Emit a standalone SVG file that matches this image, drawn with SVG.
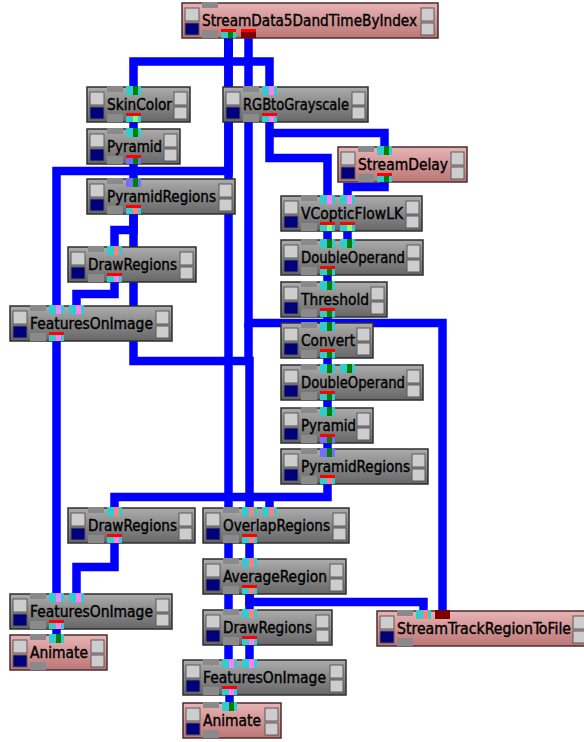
<svg xmlns="http://www.w3.org/2000/svg" width="584" height="742" viewBox="0 0 584 742">
<defs>
<linearGradient id="gg" x1="0" y1="0" x2="0" y2="1"><stop offset="0" stop-color="#acacac"/><stop offset="1" stop-color="#666666"/></linearGradient>
<linearGradient id="pg" x1="0" y1="0" x2="0" y2="1"><stop offset="0" stop-color="#e8b4b4"/><stop offset="1" stop-color="#bc7676"/></linearGradient>
</defs>
<style>
.bg{fill:url(#gg);stroke:#2e2e2e;stroke-width:1.5}
.bp{fill:url(#pg);stroke:#4a2c2c;stroke-width:1.5}
.tab{fill:#8a8a8a}
.bl{fill:#cdcdcd;stroke:#5a5a5a;stroke-width:1}
.bd{fill:#00007a;stroke:#5a5a5a;stroke-width:1}
.t{font-family:"DejaVu Sans Condensed","DejaVu Sans",sans-serif;font-size:16px;fill:#000;stroke:#000;stroke-width:0.4}
.w{fill:none;stroke:#0000ff;stroke-width:8.5;stroke-linejoin:miter}
.pc{fill:#33cccc}.plb{fill:#7070ff}.pr{fill:#ff0000}.pdr{fill:#800000}
.sg{fill:#008000}.slg{fill:#80ff80}.spk{fill:#ff80ff}.ssa{fill:#ff8080}
</style>
<rect width="584" height="742" fill="#ffffff"/>
<g id="connectors">
<path class="w" d="M228.5 36 V61.5 H133.5 V87"/>
<path class="w" d="M228.5 61.5 H269.5 V87"/>
<path class="w" d="M228.5 36 V171 H56.5 V306"/>
<path class="w" d="M228.5 36 V660"/>
<path class="w" d="M248.5 36 V323 H442.5 V611"/>
<path class="w" d="M133.5 121 V129"/>
<path class="w" d="M133.5 163 V179"/>
<path class="w" d="M133.5 213 V230 H114.5 V247"/>
<path class="w" d="M133.5 213 V361 H249.5 V508"/>
<path class="w" d="M248.5 323 V361"/>
<path class="w" d="M114.5 281 V294 H76.5 V306"/>
<path class="w" d="M56.5 340 V594"/>
<path class="w" d="M269.5 121 V158 H327.5 V196"/>
<path class="w" d="M269.5 133 H384.5 V147"/>
<path class="w" d="M384.5 181 V187 H347.5 V196"/>
<path class="w" d="M327.5 230 V240"/>
<path class="w" d="M347.5 230 V240"/>
<path class="w" d="M327.5 274 V282"/>
<path class="w" d="M327.5 316 V323"/>
<path class="w" d="M327.5 357 V365"/>
<path class="w" d="M327.5 399 V408"/>
<path class="w" d="M327.5 442 V449"/>
<path class="w" d="M327.5 483 V497 H114.5 V508"/>
<path class="w" d="M269.5 497 V508"/>
<path class="w" d="M114.5 542 V567 H76.5 V594"/>
<path class="w" d="M56.5 628 V635"/>
<path class="w" d="M249.5 542 V559"/>
<path class="w" d="M249.5 593 V610"/>
<path class="w" d="M249.5 593 V602 H423.5 V611"/>
<path class="w" d="M249.5 644 V660"/>
<path class="w" d="M229.5 694 V703"/>
</g>

<g id="sd" transform="translate(182,3)">
<rect class="bp" width="256" height="35"/>
<rect class="tab" x="20" y="-1" width="16" height="6"/><rect class="tab" x="20" y="27" width="16" height="8"/>
<rect class="bl" x="3" y="5" width="14" height="13"/><rect class="bd" x="3" y="20" width="14" height="12"/>
<rect class="bl" x="239" y="5" width="13" height="13"/><rect class="bl" x="239" y="20" width="13" height="12"/>
<text class="t" x="20" y="23" textLength="215" lengthAdjust="spacingAndGlyphs">StreamData5DandTimeByIndex</text>
<rect class="pr" x="39" y="26" width="15" height="3"/><rect class="pc" x="39" y="29" width="15" height="6"/><rect class="sg" x="46" y="29" width="5" height="6"/>
<rect class="pr" x="59" y="26" width="15" height="3"/><rect class="pdr" x="59" y="29" width="15" height="6"/>
</g>

<g id="skin" transform="translate(87,87)">
<rect class="bg" width="103" height="35"/>
<rect class="tab" x="20" y="-1" width="16" height="6"/><rect class="tab" x="20" y="27" width="16" height="8"/>
<rect class="bl" x="3" y="5" width="14" height="13"/><rect class="bd" x="3" y="20" width="14" height="12"/>
<rect class="bl" x="87" y="5" width="13" height="13"/><rect class="bl" x="87" y="20" width="13" height="12"/>
<text class="t" x="20" y="23" textLength="65" lengthAdjust="spacingAndGlyphs">SkinColor</text>
<rect class="pc" x="39" y="-1" width="15" height="9"/><rect class="sg" x="46" y="-1" width="5" height="9"/>
<rect class="pr" x="39" y="26" width="15" height="3"/><rect class="pc" x="39" y="29" width="15" height="6"/><rect class="slg" x="46" y="29" width="5" height="6"/>
</g>

<g id="rgb" transform="translate(223,87)">
<rect class="bg" width="145" height="35"/>
<rect class="tab" x="20" y="-1" width="16" height="6"/><rect class="tab" x="20" y="27" width="16" height="8"/>
<rect class="bl" x="3" y="5" width="14" height="13"/><rect class="bd" x="3" y="20" width="14" height="12"/>
<rect class="bl" x="129" y="5" width="13" height="13"/><rect class="bl" x="129" y="20" width="13" height="12"/>
<text class="t" x="20" y="23" textLength="106" lengthAdjust="spacingAndGlyphs">RGBtoGrayscale</text>
<rect class="pc" x="39" y="-1" width="15" height="9"/><rect class="spk" x="46" y="-1" width="5" height="9"/>
<rect class="pr" x="39" y="26" width="15" height="3"/><rect class="pc" x="39" y="29" width="15" height="6"/><rect class="spk" x="46" y="29" width="5" height="6"/>
</g>

<g id="pyrL" transform="translate(87,129)">
<rect class="bg" width="93" height="35"/>
<rect class="tab" x="20" y="-1" width="16" height="6"/><rect class="tab" x="20" y="27" width="16" height="8"/>
<rect class="bl" x="3" y="5" width="14" height="13"/><rect class="bd" x="3" y="20" width="14" height="12"/>
<rect class="bl" x="77" y="5" width="13" height="13"/><rect class="bl" x="77" y="20" width="13" height="12"/>
<text class="t" x="20" y="23" textLength="55" lengthAdjust="spacingAndGlyphs">Pyramid</text>
<rect class="pc" x="39" y="-1" width="15" height="9"/><rect class="sg" x="46" y="-1" width="5" height="9"/>
<rect class="pr" x="39" y="26" width="15" height="3"/><rect class="plb" x="39" y="29" width="15" height="6"/><rect class="sg" x="46" y="29" width="5" height="6"/>
</g>

<g id="prL" transform="translate(87,179)">
<rect class="bg" width="148" height="35"/>
<rect class="tab" x="20" y="-1" width="16" height="6"/><rect class="tab" x="20" y="27" width="16" height="8"/>
<rect class="bl" x="3" y="5" width="14" height="13"/><rect class="bd" x="3" y="20" width="14" height="12"/>
<rect class="bl" x="132" y="5" width="13" height="13"/><rect class="bl" x="132" y="20" width="13" height="12"/>
<text class="t" x="20" y="23" textLength="109" lengthAdjust="spacingAndGlyphs">PyramidRegions</text>
<rect class="plb" x="39" y="-1" width="15" height="9"/><rect class="sg" x="46" y="-1" width="5" height="9"/>
<rect class="pr" x="39" y="26" width="15" height="3"/><rect class="pc" x="39" y="29" width="15" height="6"/><rect class="ssa" x="46" y="29" width="5" height="6"/>
</g>

<g id="drU" transform="translate(68,247)">
<rect class="bg" width="128" height="35"/>
<rect class="tab" x="20" y="-1" width="16" height="6"/><rect class="tab" x="20" y="27" width="16" height="8"/>
<rect class="bl" x="3" y="5" width="14" height="13"/><rect class="bd" x="3" y="20" width="14" height="12"/>
<rect class="bl" x="112" y="5" width="13" height="13"/><rect class="bl" x="112" y="20" width="13" height="12"/>
<text class="t" x="20" y="23" textLength="89" lengthAdjust="spacingAndGlyphs">DrawRegions</text>
<rect class="pc" x="39" y="-1" width="15" height="9"/><rect class="ssa" x="46" y="-1" width="5" height="9"/>
<rect class="pr" x="39" y="26" width="15" height="3"/><rect class="pc" x="39" y="29" width="15" height="6"/><rect class="spk" x="46" y="29" width="5" height="6"/>
</g>

<g id="foU" transform="translate(10,306)">
<rect class="bg" width="162" height="35"/>
<rect class="tab" x="20" y="-1" width="16" height="6"/><rect class="tab" x="20" y="27" width="16" height="8"/>
<rect class="bl" x="3" y="5" width="14" height="13"/><rect class="bd" x="3" y="20" width="14" height="12"/>
<rect class="bl" x="146" y="5" width="13" height="13"/><rect class="bl" x="146" y="20" width="13" height="12"/>
<text class="t" x="20" y="23" textLength="123" lengthAdjust="spacingAndGlyphs">FeaturesOnImage</text>
<rect class="pc" x="39" y="-1" width="15" height="9"/><rect class="spk" x="46" y="-1" width="5" height="9"/>
<rect class="pc" x="59" y="-1" width="15" height="9"/><rect class="spk" x="66" y="-1" width="5" height="9"/>
<rect class="pr" x="39" y="26" width="15" height="3"/><rect class="pc" x="39" y="29" width="15" height="6"/><rect class="spk" x="46" y="29" width="5" height="6"/>
</g>

<g id="sdel" transform="translate(338,147)">
<rect class="bp" width="129" height="35"/>
<rect class="tab" x="20" y="-1" width="16" height="6"/><rect class="tab" x="20" y="27" width="16" height="8"/>
<rect class="bl" x="3" y="5" width="14" height="13"/><rect class="bd" x="3" y="20" width="14" height="12"/>
<rect class="bl" x="113" y="5" width="13" height="13"/><rect class="bl" x="113" y="20" width="13" height="12"/>
<text class="t" x="20" y="23" textLength="90" lengthAdjust="spacingAndGlyphs">StreamDelay</text>
<rect class="pc" x="39" y="-1" width="15" height="9"/><rect class="sg" x="46" y="-1" width="5" height="9"/>
<rect class="pr" x="39" y="26" width="15" height="3"/><rect class="pc" x="39" y="29" width="15" height="6"/><rect class="sg" x="46" y="29" width="5" height="6"/>
</g>

<g id="vc" transform="translate(281,196)">
<rect class="bg" width="141" height="35"/>
<rect class="tab" x="20" y="-1" width="16" height="6"/><rect class="tab" x="20" y="27" width="16" height="8"/>
<rect class="bl" x="3" y="5" width="14" height="13"/><rect class="bd" x="3" y="20" width="14" height="12"/>
<rect class="bl" x="125" y="5" width="13" height="13"/><rect class="bl" x="125" y="20" width="13" height="12"/>
<text class="t" x="20" y="23" textLength="102" lengthAdjust="spacingAndGlyphs">VCopticFlowLK</text>
<rect class="pc" x="39" y="-1" width="15" height="9"/><rect class="spk" x="46" y="-1" width="5" height="9"/>
<rect class="pc" x="59" y="-1" width="15" height="9"/><rect class="spk" x="66" y="-1" width="5" height="9"/>
<rect class="pr" x="39" y="26" width="15" height="3"/><rect class="pc" x="39" y="29" width="15" height="6"/><rect class="slg" x="46" y="29" width="5" height="6"/>
<rect class="pr" x="59" y="26" width="15" height="3"/><rect class="pc" x="59" y="29" width="15" height="6"/><rect class="slg" x="66" y="29" width="5" height="6"/>
</g>

<g id="do1" transform="translate(281,240)">
<rect class="bg" width="142" height="35"/>
<rect class="tab" x="20" y="-1" width="16" height="6"/><rect class="tab" x="20" y="27" width="16" height="8"/>
<rect class="bl" x="3" y="5" width="14" height="13"/><rect class="bd" x="3" y="20" width="14" height="12"/>
<rect class="bl" x="126" y="5" width="13" height="13"/><rect class="bl" x="126" y="20" width="13" height="12"/>
<text class="t" x="20" y="23" textLength="104" lengthAdjust="spacingAndGlyphs">DoubleOperand</text>
<rect class="pc" x="39" y="-1" width="15" height="9"/><rect class="sg" x="46" y="-1" width="5" height="9"/>
<rect class="pc" x="59" y="-1" width="15" height="9"/><rect class="sg" x="66" y="-1" width="5" height="9"/>
<rect class="pr" x="39" y="26" width="15" height="3"/><rect class="pc" x="39" y="29" width="15" height="6"/><rect class="sg" x="46" y="29" width="5" height="6"/>
</g>

<g id="th" transform="translate(281,282)">
<rect class="bg" width="106" height="35"/>
<rect class="tab" x="20" y="-1" width="16" height="6"/><rect class="tab" x="20" y="27" width="16" height="8"/>
<rect class="bl" x="3" y="5" width="14" height="13"/><rect class="bd" x="3" y="20" width="14" height="12"/>
<rect class="bl" x="90" y="5" width="13" height="13"/><rect class="bl" x="90" y="20" width="13" height="12"/>
<text class="t" x="20" y="23" textLength="68" lengthAdjust="spacingAndGlyphs">Threshold</text>
<rect class="pc" x="39" y="-1" width="15" height="9"/><rect class="sg" x="46" y="-1" width="5" height="9"/>
<rect class="pr" x="39" y="26" width="15" height="3"/><rect class="pc" x="39" y="29" width="15" height="6"/><rect class="sg" x="46" y="29" width="5" height="6"/>
</g>

<g id="cv" transform="translate(281,323)">
<rect class="bg" width="92" height="35"/>
<rect class="tab" x="20" y="-1" width="16" height="6"/><rect class="tab" x="20" y="27" width="16" height="8"/>
<rect class="bl" x="3" y="5" width="14" height="13"/><rect class="bd" x="3" y="20" width="14" height="12"/>
<rect class="bl" x="76" y="5" width="13" height="13"/><rect class="bl" x="76" y="20" width="13" height="12"/>
<text class="t" x="20" y="23" textLength="54" lengthAdjust="spacingAndGlyphs">Convert</text>
<rect class="pc" x="39" y="-1" width="15" height="9"/><rect class="sg" x="46" y="-1" width="5" height="9"/>
<rect class="pr" x="39" y="26" width="15" height="3"/><rect class="pc" x="39" y="29" width="15" height="6"/><rect class="sg" x="46" y="29" width="5" height="6"/>
</g>

<g id="do2" transform="translate(281,365)">
<rect class="bg" width="142" height="35"/>
<rect class="tab" x="20" y="-1" width="16" height="6"/><rect class="tab" x="20" y="27" width="16" height="8"/>
<rect class="bl" x="3" y="5" width="14" height="13"/><rect class="bd" x="3" y="20" width="14" height="12"/>
<rect class="bl" x="126" y="5" width="13" height="13"/><rect class="bl" x="126" y="20" width="13" height="12"/>
<text class="t" x="20" y="23" textLength="104" lengthAdjust="spacingAndGlyphs">DoubleOperand</text>
<rect class="pc" x="39" y="-1" width="15" height="9"/><rect class="sg" x="46" y="-1" width="5" height="9"/>
<rect class="pc" x="59" y="-1" width="15" height="9"/><rect class="sg" x="66" y="-1" width="5" height="9"/>
<rect class="pr" x="39" y="26" width="15" height="3"/><rect class="pc" x="39" y="29" width="15" height="6"/><rect class="sg" x="46" y="29" width="5" height="6"/>
</g>

<g id="pyrR" transform="translate(281,408)">
<rect class="bg" width="92" height="35"/>
<rect class="tab" x="20" y="-1" width="16" height="6"/><rect class="tab" x="20" y="27" width="16" height="8"/>
<rect class="bl" x="3" y="5" width="14" height="13"/><rect class="bd" x="3" y="20" width="14" height="12"/>
<rect class="bl" x="76" y="5" width="13" height="13"/><rect class="bl" x="76" y="20" width="13" height="12"/>
<text class="t" x="20" y="23" textLength="55" lengthAdjust="spacingAndGlyphs">Pyramid</text>
<rect class="pc" x="39" y="-1" width="15" height="9"/><rect class="sg" x="46" y="-1" width="5" height="9"/>
<rect class="pr" x="39" y="26" width="15" height="3"/><rect class="plb" x="39" y="29" width="15" height="6"/><rect class="sg" x="46" y="29" width="5" height="6"/>
</g>

<g id="prR" transform="translate(281,449)">
<rect class="bg" width="147" height="35"/>
<rect class="tab" x="20" y="-1" width="16" height="6"/><rect class="tab" x="20" y="27" width="16" height="8"/>
<rect class="bl" x="3" y="5" width="14" height="13"/><rect class="bd" x="3" y="20" width="14" height="12"/>
<rect class="bl" x="131" y="5" width="13" height="13"/><rect class="bl" x="131" y="20" width="13" height="12"/>
<text class="t" x="20" y="23" textLength="109" lengthAdjust="spacingAndGlyphs">PyramidRegions</text>
<rect class="plb" x="39" y="-1" width="15" height="9"/><rect class="sg" x="46" y="-1" width="5" height="9"/>
<rect class="pr" x="39" y="26" width="15" height="3"/><rect class="pc" x="39" y="29" width="15" height="6"/><rect class="ssa" x="46" y="29" width="5" height="6"/>
</g>

<g id="drL" transform="translate(68,508)">
<rect class="bg" width="127" height="35"/>
<rect class="tab" x="20" y="-1" width="16" height="6"/><rect class="tab" x="20" y="27" width="16" height="8"/>
<rect class="bl" x="3" y="5" width="14" height="13"/><rect class="bd" x="3" y="20" width="14" height="12"/>
<rect class="bl" x="111" y="5" width="13" height="13"/><rect class="bl" x="111" y="20" width="13" height="12"/>
<text class="t" x="20" y="23" textLength="89" lengthAdjust="spacingAndGlyphs">DrawRegions</text>
<rect class="pc" x="39" y="-1" width="15" height="9"/><rect class="ssa" x="46" y="-1" width="5" height="9"/>
<rect class="pr" x="39" y="26" width="15" height="3"/><rect class="pc" x="39" y="29" width="15" height="6"/><rect class="spk" x="46" y="29" width="5" height="6"/>
</g>

<g id="foL" transform="translate(10,594)">
<rect class="bg" width="162" height="35"/>
<rect class="tab" x="20" y="-1" width="16" height="6"/><rect class="tab" x="20" y="27" width="16" height="8"/>
<rect class="bl" x="3" y="5" width="14" height="13"/><rect class="bd" x="3" y="20" width="14" height="12"/>
<rect class="bl" x="146" y="5" width="13" height="13"/><rect class="bl" x="146" y="20" width="13" height="12"/>
<text class="t" x="20" y="23" textLength="123" lengthAdjust="spacingAndGlyphs">FeaturesOnImage</text>
<rect class="pc" x="39" y="-1" width="15" height="9"/><rect class="spk" x="46" y="-1" width="5" height="9"/>
<rect class="pc" x="59" y="-1" width="15" height="9"/><rect class="spk" x="66" y="-1" width="5" height="9"/>
<rect class="pr" x="39" y="26" width="15" height="3"/><rect class="pc" x="39" y="29" width="15" height="6"/><rect class="spk" x="46" y="29" width="5" height="6"/>
</g>

<g id="anL" transform="translate(10,635)">
<rect class="bp" width="97" height="35"/>
<rect class="tab" x="20" y="-1" width="16" height="6"/><rect class="tab" x="20" y="27" width="16" height="8"/>
<rect class="bl" x="3" y="5" width="14" height="13"/><rect class="bd" x="3" y="20" width="14" height="12"/>
<rect class="bl" x="81" y="5" width="13" height="13"/><rect class="bl" x="81" y="20" width="13" height="12"/>
<text class="t" x="20" y="23" textLength="58" lengthAdjust="spacingAndGlyphs">Animate</text>
<rect class="pc" x="39" y="-1" width="15" height="9"/><rect class="sg" x="46" y="-1" width="5" height="9"/>
</g>

<g id="ov" transform="translate(203,508)">
<rect class="bg" width="146" height="35"/>
<rect class="tab" x="20" y="-1" width="16" height="6"/><rect class="tab" x="20" y="27" width="16" height="8"/>
<rect class="bl" x="3" y="5" width="14" height="13"/><rect class="bd" x="3" y="20" width="14" height="12"/>
<rect class="bl" x="130" y="5" width="13" height="13"/><rect class="bl" x="130" y="20" width="13" height="12"/>
<text class="t" x="20" y="23" textLength="107" lengthAdjust="spacingAndGlyphs">OverlapRegions</text>
<rect class="pc" x="39" y="-1" width="15" height="9"/><rect class="ssa" x="46" y="-1" width="5" height="9"/>
<rect class="pc" x="59" y="-1" width="15" height="9"/><rect class="ssa" x="66" y="-1" width="5" height="9"/>
<rect class="pr" x="39" y="26" width="15" height="3"/><rect class="pc" x="39" y="29" width="15" height="6"/><rect class="ssa" x="46" y="29" width="5" height="6"/>
</g>

<g id="av" transform="translate(203,559)">
<rect class="bg" width="143" height="35"/>
<rect class="tab" x="20" y="-1" width="16" height="6"/><rect class="tab" x="20" y="27" width="16" height="8"/>
<rect class="bl" x="3" y="5" width="14" height="13"/><rect class="bd" x="3" y="20" width="14" height="12"/>
<rect class="bl" x="127" y="5" width="13" height="13"/><rect class="bl" x="127" y="20" width="13" height="12"/>
<text class="t" x="20" y="23" textLength="104" lengthAdjust="spacingAndGlyphs">AverageRegion</text>
<rect class="pc" x="39" y="-1" width="15" height="9"/><rect class="ssa" x="46" y="-1" width="5" height="9"/>
<rect class="pr" x="39" y="26" width="15" height="3"/><rect class="pc" x="39" y="29" width="15" height="6"/><rect class="ssa" x="46" y="29" width="5" height="6"/>
</g>

<g id="drM" transform="translate(203,610)">
<rect class="bg" width="129" height="35"/>
<rect class="tab" x="20" y="-1" width="16" height="6"/><rect class="tab" x="20" y="27" width="16" height="8"/>
<rect class="bl" x="3" y="5" width="14" height="13"/><rect class="bd" x="3" y="20" width="14" height="12"/>
<rect class="bl" x="113" y="5" width="13" height="13"/><rect class="bl" x="113" y="20" width="13" height="12"/>
<text class="t" x="20" y="23" textLength="89" lengthAdjust="spacingAndGlyphs">DrawRegions</text>
<rect class="pc" x="39" y="-1" width="15" height="9"/><rect class="ssa" x="46" y="-1" width="5" height="9"/>
<rect class="pr" x="39" y="26" width="15" height="3"/><rect class="pc" x="39" y="29" width="15" height="6"/><rect class="spk" x="46" y="29" width="5" height="6"/>
</g>

<g id="foM" transform="translate(183,660)">
<rect class="bg" width="163" height="35"/>
<rect class="tab" x="20" y="-1" width="16" height="6"/><rect class="tab" x="20" y="27" width="16" height="8"/>
<rect class="bl" x="3" y="5" width="14" height="13"/><rect class="bd" x="3" y="20" width="14" height="12"/>
<rect class="bl" x="147" y="5" width="13" height="13"/><rect class="bl" x="147" y="20" width="13" height="12"/>
<text class="t" x="20" y="23" textLength="123" lengthAdjust="spacingAndGlyphs">FeaturesOnImage</text>
<rect class="pc" x="39" y="-1" width="15" height="9"/><rect class="spk" x="46" y="-1" width="5" height="9"/>
<rect class="pc" x="59" y="-1" width="15" height="9"/><rect class="spk" x="66" y="-1" width="5" height="9"/>
<rect class="pr" x="39" y="26" width="15" height="3"/><rect class="pc" x="39" y="29" width="15" height="6"/><rect class="spk" x="46" y="29" width="5" height="6"/>
</g>

<g id="anM" transform="translate(183,703)">
<rect class="bp" width="98" height="35"/>
<rect class="tab" x="20" y="-1" width="16" height="6"/><rect class="tab" x="20" y="27" width="16" height="8"/>
<rect class="bl" x="3" y="5" width="14" height="13"/><rect class="bd" x="3" y="20" width="14" height="12"/>
<rect class="bl" x="82" y="5" width="13" height="13"/><rect class="bl" x="82" y="20" width="13" height="12"/>
<text class="t" x="20" y="23" textLength="58" lengthAdjust="spacingAndGlyphs">Animate</text>
<rect class="pc" x="39" y="-1" width="15" height="9"/><rect class="sg" x="46" y="-1" width="5" height="9"/>
</g>

<g id="st" transform="translate(377,611)">
<rect class="bp" width="212" height="35"/>
<rect class="tab" x="20" y="-1" width="16" height="6"/><rect class="tab" x="20" y="27" width="16" height="8"/>
<rect class="bl" x="3" y="5" width="14" height="13"/><rect class="bd" x="3" y="20" width="14" height="12"/>
<rect class="bl" x="196" y="5" width="13" height="13"/><rect class="bl" x="196" y="20" width="13" height="12"/>
<text class="t" x="20" y="23" textLength="174" lengthAdjust="spacingAndGlyphs">StreamTrackRegionToFile</text>
<rect class="pc" x="39" y="-1" width="15" height="9"/><rect class="ssa" x="46" y="-1" width="5" height="9"/>
<rect class="pdr" x="58" y="-1" width="15" height="9"/>
</g>
</svg>
